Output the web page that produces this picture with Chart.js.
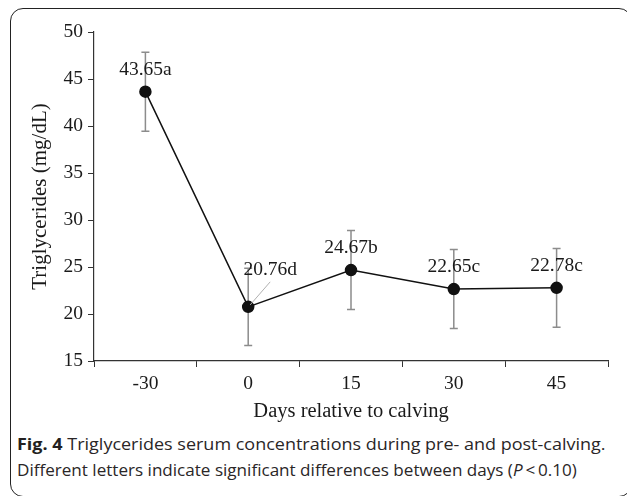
<!DOCTYPE html>
<html>
<head>
<meta charset="utf-8">
<script src="https://cdn.jsdelivr.net/npm/chart.js@4"></script>
<style>
  html, body { margin: 0; padding: 0; background: #fff; overflow: hidden; }
  #wrap { position: relative; width: 627px; height: 496px; }
  #frame { position: absolute; left: 10px; top: 8px; width: 622px; height: 489px; border: 1.5px solid #222; border-radius: 13px; box-sizing: border-box; }
  #chartBox { position: absolute; left: 0; top: 0; width: 627px; height: 428px; }
  .cap { position: absolute; left: 17px; font-family: "Open Sans", sans-serif; font-size: 16.5px; line-height: 26px; color: #2a2627; white-space: nowrap; transform-origin: left top; }
  #cap1 { top: 431px; transform: scaleX(1.09); }
  #cap2 { top: 457px; transform: scaleX(1.035); }
  .cap b { font-weight: 700; color: #231f20; }
</style>
</head>
<body>
<div id="wrap">
  <div id="frame"></div>
  <div id="chartBox"><canvas id="trigChart"></canvas></div>
  <div class="cap" id="cap1"><b>Fig. 4</b> Triglycerides serum concentrations during pre- and post-calving.</div>
  <div class="cap" id="cap2">Different letters indicate significant differences between days (<i>P</i>&thinsp;&lt;&thinsp;0.10)</div>
</div>
<script>
// days relative to calving and mean triglycerides (mg/dL)
const days = ['-30', '0', '15', '30', '45'];
const triglycerides = [43.65, 20.76, 24.67, 22.65, 22.78];
const errors = [4.2, 4.1, 4.2, 4.2, 4.2];
const letters = ['a', 'd', 'b', 'c', 'c'];
const yMin = 15, yMax = 50, yStep = 5;

const serif = 'Liberation Serif, Times New Roman, serif';

// vertical error bars with caps
const errorBars = {
    id: 'errorBars',
    beforeDatasetsDraw(chart) {
        const ctx = chart.ctx;
        const x = chart.scales.x, y = chart.scales.y;
        ctx.save();
        ctx.strokeStyle = '#8c8c8c';
        ctx.lineWidth = 1.5;
        triglycerides.forEach(function(v, i) {
            const px = x.getPixelForValue(i);
            const top = y.getPixelForValue(v + errors[i]);
            const bot = y.getPixelForValue(v - errors[i]);
            ctx.beginPath();
            ctx.moveTo(px, top); ctx.lineTo(px, bot);
            ctx.moveTo(px - 4, top); ctx.lineTo(px + 4, top);
            ctx.moveTo(px - 4, bot); ctx.lineTo(px + 4, bot);
            ctx.stroke();
        });
        ctx.restore();
    }
};

// mean value + significance letter above each point
const valueLabels = {
    id: 'valueLabels',
    afterDatasetsDraw(chart) {
        const ctx = chart.ctx;
        const meta = chart.getDatasetMeta(0);
        ctx.save();
        ctx.font = '19.5px ' + serif;
        ctx.fillStyle = '#1a1a1a';
        ctx.textAlign = 'center';
        ctx.textBaseline = 'middle';
        meta.data.forEach(function(pt, i) {
            const text = triglycerides[i].toFixed(2) + letters[i];
            if (i === 1) {
                // day 0 label sits up and to the right, with a leader line
                ctx.strokeStyle = '#b0b0b0';
                ctx.lineWidth = 1;
                ctx.beginPath();
                ctx.moveTo(pt.x + 2, pt.y - 2);
                ctx.lineTo(pt.x + 22, pt.y - 25);
                ctx.stroke();
                ctx.fillText(text, pt.x + 22, pt.y - 37);
            } else {
                ctx.fillText(text, pt.x, pt.y - 22);
            }
        });
        ctx.restore();
    }
};

const ctx = document.getElementById('trigChart').getContext('2d');
const trigChart = new Chart(ctx, {
    type: 'line',
    data: {
        labels: days,
        datasets: [{
            data: triglycerides,
            borderColor: '#111',
            borderWidth: 1.5,
            backgroundColor: '#111',
            pointRadius: 5.5,
            pointHoverRadius: 5.5,
            fill: false,
            tension: 0
        }]
    },
    options: {
        responsive: true,
        maintainAspectRatio: false,
        animation: false,
        events: [],
        layout: { padding: { top: 32, right: 19, left: 0, bottom: 0 } },
        plugins: {
            legend: { display: false },
            tooltip: { enabled: false }
        },
        scales: {
            x: {
                offset: true,
                grid: { display: true, drawOnChartArea: false, offset: true, tickLength: 6, color: '#333' },
                border: { color: '#333', width: 1.2 },
                ticks: { color: '#1a1a1a', font: { family: serif, size: 19.5 }, padding: 5 },
                title: { display: true, text: 'Days relative to calving', color: '#1a1a1a', font: { family: serif, size: 20.5 }, padding: { top: 4, bottom: 4 } },
                afterFit(scale) { scale.height = 67; }
            },
            y: {
                min: yMin,
                max: yMax,
                grid: { display: true, drawOnChartArea: false, tickLength: 6, color: '#333' },
                border: { color: '#333', width: 1.2 },
                ticks: { stepSize: yStep, color: '#1a1a1a', font: { family: serif, size: 19.5 }, padding: 5 },
                title: { display: true, text: 'Triglycerides (mg/dL)', color: '#1a1a1a', font: { family: serif, size: 21 }, padding: { top: 28, bottom: 4 } },
                afterFit(scale) { scale.width = 94; }
            }
        }
    },
    plugins: [errorBars, valueLabels]
});
</script>
</body>
</html>
